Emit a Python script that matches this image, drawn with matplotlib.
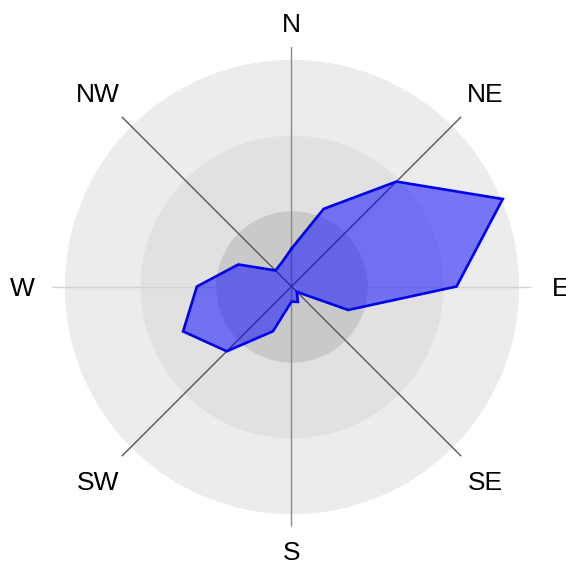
import numpy as np
import matplotlib
matplotlib.use("Agg")
import matplotlib.pyplot as plt

# Data: 16 compass directions (degrees clockwise from north) and frequencies
directions = [0, 22.5, 45, 67.5, 90, 112.5, 135, 157.5,
              180, 202.5, 225, 247.5, 270, 292.5, 315, 337.5]
frequency = [0.50, 1.11, 1.96, 3.02, 2.18, 0.81, 0.10, 0.22,
             0.20, 0.64, 1.21, 1.55, 1.25, 0.76, 0.30, 0.34]
ring_levels = [3, 2, 1]
ring_colors = ["#ececec", "#e1e1e1", "#c9c9c9"]
compass_labels = ["N", "NE", "E", "SE", "S", "SW", "W", "NW"]
compass_angles = [0, 45, 90, 135, 180, 225, 270, 315]

plt.rcParams['font.family'] = ['Liberation Sans', 'DejaVu Sans']

fig = plt.figure(figsize=(5.66, 5.67), dpi=100)
ax = fig.add_axes([0.091, 0.0714, 0.848, 0.8466], projection='polar')
ax.set_theta_zero_location('N')
ax.set_theta_direction(-1)
rmax = 3.17
ax.set_ylim(0, rmax)
ax.grid(False)
ax.set_xticks([])
ax.set_yticks([])
ax.spines['polar'].set_visible(False)
ax.patch.set_alpha(0)

full = np.linspace(0, 2 * np.pi, 400)
for lvl, col in zip(ring_levels, ring_colors):
    ax.fill_between(full, 0, lvl, color=col, lw=0, zorder=1)

# spokes
spoke_colors = {0: "#8a8a8a", 90: "#d2d2d2", 45: "#555555", 135: "#555555"}
for a, c in spoke_colors.items():
    t = np.deg2rad(a)
    ax.plot([t, t], [0, rmax], color=c, lw=1.0, zorder=2)
    ax.plot([t + np.pi, t + np.pi], [0, rmax], color=c, lw=1.0, zorder=2)

th = np.deg2rad(np.array(directions + [directions[0]]))
rv = np.array(frequency + [frequency[0]])
ax.fill(th, rv, color=(0, 0, 1, 0.5), lw=0, zorder=3)
ax.plot(th, rv, color="#0000ee", lw=1.9, zorder=4, solid_joinstyle='miter')

label_r = {"N": 3.49, "S": 3.49, "E": 3.56, "W": 3.56}
for lab, a in zip(compass_labels, compass_angles):
    r = label_r.get(lab, 3.62)
    ax.text(np.deg2rad(a), r, lab, ha='center', va='center_baseline',
            fontsize=19, color='black', clip_on=False)

fig.savefig("out.png", dpi=100)
